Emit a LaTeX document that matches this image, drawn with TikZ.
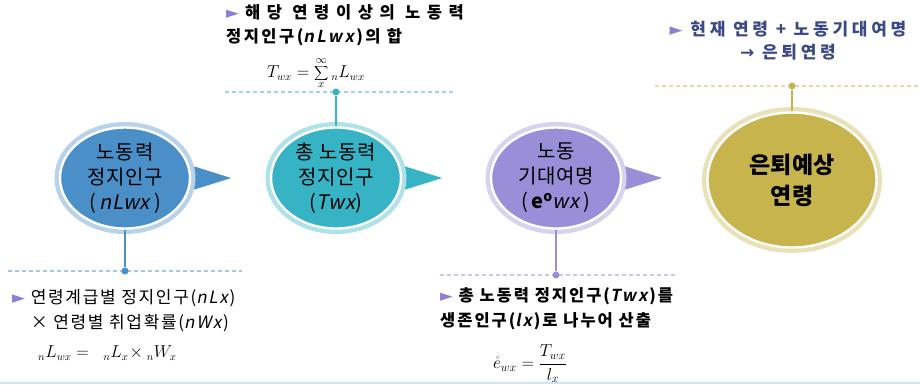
\documentclass[tikz,border=0pt]{standalone}
\usepackage{fontspec}
\setmainfont{Noto Sans CJK KR}[
  ItalicFont=Noto Sans CJK KR, ItalicFeatures={FakeSlant=0.2},
  BoldItalicFont=Noto Sans CJK KR Bold, BoldItalicFeatures={FakeSlant=0.2}]
\newfontfamily\symf{DejaVu Sans}
\usetikzlibrary{shapes.geometric,positioning,backgrounds}
\definecolor{bluec}{HTML}{4A8FC8}
\definecolor{tealc}{HTML}{36B4C6}
\definecolor{violc}{HTML}{9A8ED8}
\definecolor{goldc}{HTML}{C8B44C}
\definecolor{navyt}{HTML}{3C4A84}
\definecolor{markc}{HTML}{8C80D4}
\newcommand{\mk}{{\symf\color{markc}►}\ }

\begin{document}
\begin{tikzpicture}[
  x=1pt,y=-1pt,
  stage/.style={ellipse,fill=#1,draw=white,line width=2.4pt,
    preaction={draw=#1!40!white,line width=11pt},
    minimum width=130pt,minimum height=101pt,inner sep=0pt,align=center,
    font=\fontsize{20}{25}\selectfont\addfontfeatures{LetterSpace=4}},
  stem/.style={draw=#1,line width=1.6pt},
  sep/.style={draw=#1!50!white,dash pattern=on 4pt off 3pt,line width=1.2pt},
  dot/.style={circle,fill=#1,inner sep=0pt,minimum size=7pt},
  note/.style={align=left,anchor=north west,inner sep=0pt,
    font=\fontsize{16.5}{24}\selectfont\bfseries\addfontfeatures{LetterSpace=15}}
]
\useasboundingbox (0,0) rectangle (920,384);
\begin{scope}[on background layer]
\fill[white] (0,0) rectangle (920,384);
\end{scope}

% Stages
\node[stage=bluec] (lab) at (125,178) {노동력\\정지인구\\(\,\textit{nLwx}\,)};
\node[stage=tealc] (tot) at (336,178) {총 노동력\\정지인구\\(\textit{Twx})};
\node[stage=violc] (exp) at (556,178) {노동\\기대여명\\(\,\textbf{e\textsuperscript{o}}\textit{wx}\,)};
\node[stage=goldc,minimum width=169pt,minimum height=135pt,
  font=\fontsize{23}{31}\selectfont\bfseries] (ret) at (792,180) {은퇴예상\\연령};

% Pointers
\begin{scope}[on background layer]
\foreach \n/\c in {lab/bluec,tot/tealc,exp/violc}
  \fill[\c] ([shift={(-8,-15)}]\n.east) -- ([xshift=40]\n.east) -- ([shift={(-8,15)}]\n.east) -- cycle;
\end{scope}

% Call-out lines
\node[dot=bluec] (d1) at (125,271) {};
\node[dot=tealc] (d2) at (336,92) {};
\node[dot=violc] (d3) at (556,275) {};
\node[dot=goldc] (d4) at (792,86) {};
\begin{scope}[on background layer]
\draw[sep=bluec] ([xshift=-117]d1.center) -- ([xshift=117]d1.center);
\draw[sep=tealc] ([xshift=-111]d2.center) -- ([xshift=119]d2.center);
\draw[sep=violc] ([xshift=-116]d3.center) -- ([xshift=119]d3.center);
\draw[sep=goldc] ([xshift=-137]d4.center) -- ([xshift=128]d4.center);
\end{scope}
\draw[stem=bluec] (lab.south) -- (d1);
\draw[stem=tealc] (tot.north) -- (d2);
\draw[stem=violc] (exp.south) -- (d3);
\draw[stem=goldc] (ret.north) -- (d4);

% Notes
\node[note,font=\fontsize{17}{25}\selectfont\addfontfeatures{LetterSpace=10}] (n1) at (12,289)
  {\mk 연령계급별 정지인구(\textit{nLx})\\\hphantom{\mk}× 연령별 취업확률(\textit{nWx})};
\node[anchor=west,inner sep=0pt,font=\fontsize{16}{18}\selectfont] (f1) at (38,353)
  {$ {}_{n}L_{wx} = \;\; {}_{n}L_{x}\!\times{}_{n}W_{x}$};

\node[note] (n2) at (226,4)
  {\mk {\addfontfeatures{LetterSpace=40}해당 연령이상의 노동력}\\정지인구(\textit{nLwx})의 합};
\node[inner sep=0pt,font=\fontsize{16}{18}\selectfont] (f2) at (316,73)
  {$T_{wx} = \displaystyle\sum\limits_{x}^{\infty} {}_{n}L_{wx}$};

\node[note,font=\fontsize{16.5}{25}\selectfont\bfseries\addfontfeatures{LetterSpace=12}] (n3) at (440,287)
  {\mk 총 노동력 정지인구(\textit{Twx})를\\생존인구(\textit{lx})로 나누어 산출};
\node[inner sep=0pt,font=\fontsize{18}{20}\selectfont] (f3) at (530,364)
  {$\mathring{e}_{wx} = \displaystyle\frac{T_{wx}}{l_{x}}$};

\node[note,anchor=center,align=center,text=navyt,
  font=\fontsize{17}{23}\selectfont\bfseries\addfontfeatures{LetterSpace=22}] (n4) at (788,41)
  {\mk 현재 연령 + 노동기대여명\\{\symf →} 은퇴연령};

\draw[bluec!25,line width=1.5pt] (0,383) -- (920,383);
\end{tikzpicture}
\end{document}
